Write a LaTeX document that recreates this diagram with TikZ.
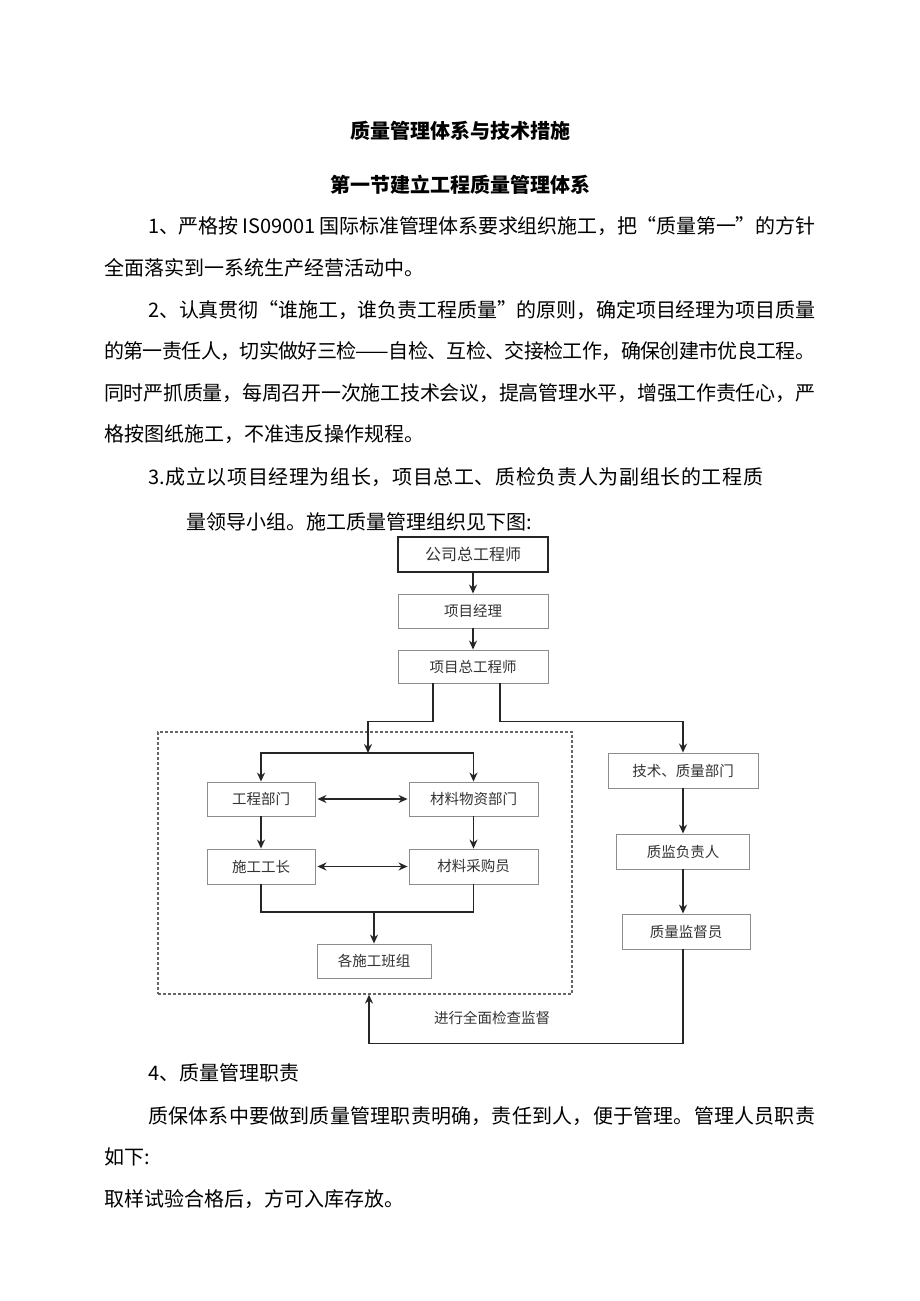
\documentclass[tikz,border=0pt]{standalone}
\usepackage{fontspec}
\setmainfont{Noto Sans CJK SC}
\usetikzlibrary{arrows.meta}
% spread the characters of a line evenly over a given width
\def\spreadfirst#1#2\relax{#1\spreadrest#2\relax}
\def\spreadrest#1{\ifx\relax#1\else\hskip0pt plus1fil minus1.5pt #1\expandafter\spreadrest\fi}
\newcommand{\jline}[2]{\makebox[#1][s]{\spreadfirst#2\relax}}
\begin{document}
\begin{tikzpicture}[x=1pt,y=-1pt,
  txt/.style={anchor=west, inner sep=0pt, font=\fontsize{20}{22}\selectfont},
  ttl/.style={inner sep=0pt, font=\bfseries\fontsize{20}{24}\selectfont},
  box/.style={draw=black!45, line width=0.9pt, fill=white, inner sep=0pt, font=\fontsize{14.5}{16}\selectfont, text=black!80},
  topbox/.style={box, draw=black!85, line width=1.4pt, font=\fontsize{16}{18}\selectfont},
  conn/.style={line width=1.4pt, draw=black!85},
  arr/.style={conn, -{Stealth[length=9pt,width=8pt]}},
  darr/.style={conn, {Stealth[length=9pt,width=8pt]}-{Stealth[length=9pt,width=8pt]}},
  grpbox/.style={draw=black!60, line width=1.2pt, dash pattern=on 3pt off 2pt}]
\useasboundingbox[fill=white] (0,0) rectangle (920,1301);

% titles
\node[ttl] (t1) at (460,131) {质量管理体系与技术措施};
\node[ttl] (t2) at (460,185) {第一节建立工程质量管理体系};

% body text
\node[txt] (l1) at (148,226) {\jline{667pt}{1、严格按{\ IS09001\ }国际标准管理体系要求组织施工，把“质量第一”的方针}};
\node[txt] (l2) at (104,268) {全面落实到一系统生产经营活动中。};
\node[txt] (l3) at (148,310) {\jline{667pt}{2、认真贯彻“谁施工，谁负责工程质量”的原则，确定项目经理为项目质量}};
\node[txt] (l4) at (104,351) {\jline{711pt}{的第一责任人，切实做好三检{——}自检、互检、交接检工作，确保创建市优良工程。}};
\node[txt] (l5) at (104,393) {\jline{711pt}{同时严抓质量，每周召开一次施工技术会议，提高管理水平，增强工作责任心，严}};
\node[txt] (l6) at (104,434) {格按图纸施工，不准违反操作规程。};
\node[txt] (l7) at (148,477) {\jline{615pt}{{3.}成立以项目经理为组长，项目总工、质检负责人为副组长的工程质}};
\node[txt] (l8) at (186,522) {量领导小组。施工质量管理组织见下图:};
\node[txt] (l9) at (148,1073) {4、质量管理职责};
\node[txt] (l10) at (148,1116) {\jline{667pt}{质保体系中要做到质量管理职责明确，责任到人，便于管理。管理人员职责}};
\node[txt] (l11) at (104,1157) {如下:};
\node[txt] (l12) at (104,1199) {取样试验合格后，方可入库存放。};

% dashed group
\node[grpbox, minimum width=414pt, minimum height=262pt, inner sep=0pt] (grp) at (365,863) {};

% boxes
\node[topbox, minimum width=150pt, minimum height=35pt] (a) at (473,554.5) {公司总工程师};
\node[box, minimum width=150pt, minimum height=34pt] (b) at (473,611) {项目经理};
\node[box, minimum width=150pt, minimum height=33pt] (c) at (473,666.5) {项目总工程师};
\node[box, minimum width=108pt, minimum height=34pt] (gc) at (261,799) {工程部门};
\node[box, minimum width=129pt, minimum height=34pt] (cw) at (473.5,799) {材料物资部门};
\node[box, minimum width=108pt, minimum height=35pt] (sg) at (261,866.5) {施工工长};
\node[box, minimum width=129pt, minimum height=35pt] (cg) at (473.5,866.5) {材料采购员};
\node[box, minimum width=114pt, minimum height=34pt] (team) at (374,961) {各施工班组};
\node[box, minimum width=150pt, minimum height=35pt] (tq) at (683,770.5) {技术、质量部门};
\node[box, minimum width=133pt, minimum height=35pt] (qh) at (683,851.5) {质监负责人};
\node[box, minimum width=128pt, minimum height=35pt] (qs) at (686,931.5) {质量监督员};
\node[inner sep=0pt, font=\fontsize{14.5}{16}\selectfont, text=black!80] (lbl) at (492,1018) {进行全面检查监督};

\coordinate (split) at (368,753);
\coordinate (merge) at (374,912);

% connectors
\draw[arr] (a.south) -- (b.north);
\draw[arr] (b.south) -- (c.north);
\draw[arr] ([xshift=-40pt]c.south) -- ++(0,38) -| (split);
\draw[arr] (split) -| (gc.north);
\draw[arr] (split) -| (cw.north);
\draw[arr] ([xshift=27pt]c.south) -- ++(0,38) -| (tq.north);
\draw[darr, shorten <=2pt, shorten >=1pt] (gc.east) -- (cw.west);
\draw[darr, shorten <=2pt, shorten >=1pt] (sg.east) -- (cg.west);
\draw[arr] (gc.south) -- (sg.north);
\draw[arr] (cw.south) -- (cg.north);
\draw[conn] (sg.south) |- (merge) -| (cg.south);
\draw[arr] (merge) -- (team.north);
\draw[arr] (tq.south) -- (qh.north);
\draw[arr] (qh.south) -- (qh.south |- qs.north);
\draw[arr] ([xshift=-3pt]qs.south) -- ++(0,94) -| ([xshift=4pt]grp.south);
\end{tikzpicture}
\end{document}
